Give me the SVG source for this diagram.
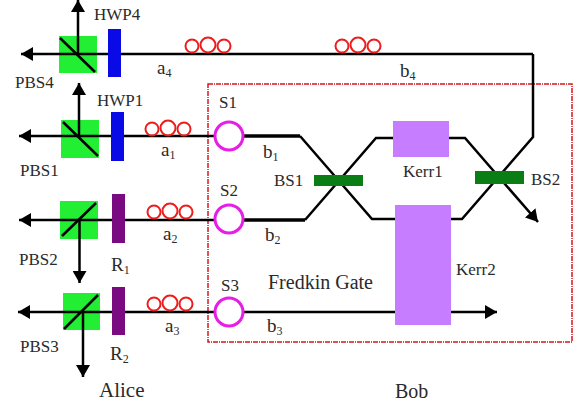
<svg xmlns="http://www.w3.org/2000/svg" width="587" height="408" viewBox="0 0 587 408">
<style>
text{font-family:"Liberation Serif","Times New Roman",serif;font-size:17px;fill:#2a2a2a}
.sub{font-size:12px}
.l{font-size:19px}
.pbs{fill:#22ee33}
.hwp{fill:#0a0ae6}
.r{fill:#7a0a82}
.kerr{fill:#c77dff}
.bs{fill:#0a7d14}
.coil{fill:none;stroke:#ee1c1c;stroke-width:2}
.src{fill:#fff;stroke:#e61ee6;stroke-width:3}
.w{fill:none;stroke:#000;stroke-width:2.500;stroke-linejoin:miter}
.t{fill:none;stroke:#000;stroke-width:3.500}
.m{fill:none;stroke:#000;stroke-width:2.500}
</style>
<defs>
<marker id="a" markerUnits="userSpaceOnUse" markerWidth="13" markerHeight="14" refX="12" refY="7" orient="auto"><path d="M0 0L12 7L0 14Z" fill="#000"/></marker>
<g id="coils"><circle cx="-16" cy="0" r="6.500" class="coil"/><circle cx="0" cy="-1" r="7.500" class="coil"/><circle cx="16" cy="0" r="6.500" class="coil"/></g>
</defs>
<g id="frame"><rect x="208" y="84" width="364" height="258" fill="none" stroke="#d8141c" stroke-width="1.500" stroke-dasharray="5 1 1 1"/></g>
<g id="pbs-fills">
<rect class="pbs" x="59" y="36" width="38" height="37"/>
<rect class="pbs" x="61" y="120" width="38" height="38"/>
<rect class="pbs" x="60" y="201" width="38" height="38"/>
<rect class="pbs" x="63" y="293" width="37" height="37"/>
</g>
<g id="connectors">
<path class="w" d="M533 54H21" marker-end="url(#a)"/>
<path class="w" d="M214 136H19" marker-end="url(#a)"/>
<path class="w" d="M214 220H19" marker-end="url(#a)"/>
<path class="w" d="M214 312H18" marker-end="url(#a)"/>
<path class="w" d="M78 54V0" marker-end="url(#a)"/>
<path class="w" d="M79 136V83" marker-end="url(#a)"/>
<path class="w" d="M79.500 220V283" marker-end="url(#a)"/>
<path class="w" d="M83 312V377" marker-end="url(#a)"/>
<path class="m" d="M60 38L95 72"/>
<path class="m" d="M63 122L98 156"/>
<path class="m" d="M62 236L96 203"/>
<path class="m" d="M64 329L98 295"/>
<path class="w" d="M243 312H497" marker-end="url(#a)"/>
<path class="t" d="M243 136H300"/>
<path class="t" d="M243 220H305"/>
<path class="w" d="M300 136L372 219H396"/>
<path class="w" d="M305 220L376 138H394"/>
<path class="w" d="M448 138H465L538 222" marker-end="url(#a)"/>
<path class="w" d="M450 219H462L533 137V54"/>
</g>
<g id="HWP4"><rect class="hwp" x="108" y="29" width="13" height="48"/><text x="94" y="20">HWP4</text></g>
<g id="HWP1"><rect class="hwp" x="111" y="112" width="13" height="49"/><text x="97" y="106">HWP1</text></g>
<g id="R1"><rect class="r" x="112" y="194" width="13" height="49"/><text class="l" x="111" y="271">R<tspan class="sub" dy="3">1</tspan></text></g>
<g id="R2"><rect class="r" x="112" y="287" width="13" height="48"/><text class="l" x="110" y="360">R<tspan class="sub" dy="3">2</tspan></text></g>
<g id="PBS4"><text x="15" y="88">PBS4</text></g>
<g id="PBS1"><text x="20" y="176">PBS1</text></g>
<g id="PBS2"><text x="19" y="265">PBS2</text></g>
<g id="PBS3"><text x="20" y="352">PBS3</text></g>
<g id="coil-a4"><use href="#coils" x="208" y="46"/><text class="l" x="157" y="74">a<tspan class="sub" dy="3">4</tspan></text></g>
<g id="coil-a1"><use href="#coils" x="168" y="129"/><text class="l" x="161" y="156">a<tspan class="sub" dy="3">1</tspan></text></g>
<g id="coil-a2"><use href="#coils" x="170" y="212"/><text class="l" x="163" y="240">a<tspan class="sub" dy="3">2</tspan></text></g>
<g id="coil-a3"><use href="#coils" x="170" y="304"/><text class="l" x="165" y="332">a<tspan class="sub" dy="3">3</tspan></text></g>
<g id="coil-b4"><use href="#coils" x="358" y="46"/><text class="l" x="400" y="77">b<tspan class="sub" dy="3">4</tspan></text></g>
<g id="S1"><circle class="src" cx="229" cy="136" r="14"/><text x="219" y="108">S1</text></g>
<g id="S2"><circle class="src" cx="229" cy="219" r="14"/><text x="220" y="196">S2</text></g>
<g id="S3"><circle class="src" cx="229" cy="312" r="14"/><text x="221" y="291">S3</text></g>
<text class="l" x="263" y="158">b<tspan class="sub" dy="3">1</tspan></text>
<text class="l" x="265" y="241">b<tspan class="sub" dy="3">2</tspan></text>
<text class="l" x="267" y="332">b<tspan class="sub" dy="3">3</tspan></text>
<g id="BS1"><rect class="bs" x="314" y="175" width="49" height="11"/><text x="274" y="186">BS1</text></g>
<g id="BS2"><rect class="bs" x="475" y="171" width="49" height="13"/><text x="531" y="185">BS2</text></g>
<g id="Kerr1"><rect class="kerr" x="393" y="121" width="56" height="36"/><text x="403" y="177">Kerr1</text></g>
<g id="Kerr2"><rect class="kerr" x="395" y="205" width="56" height="120"/><text x="456" y="275">Kerr2</text></g>
<text x="268" y="289" style="font-size:20px">Fredkin Gate</text>
<text x="99" y="397" style="font-size:21px">Alice</text>
<text x="395" y="398" style="font-size:20px">Bob</text>
</svg>
